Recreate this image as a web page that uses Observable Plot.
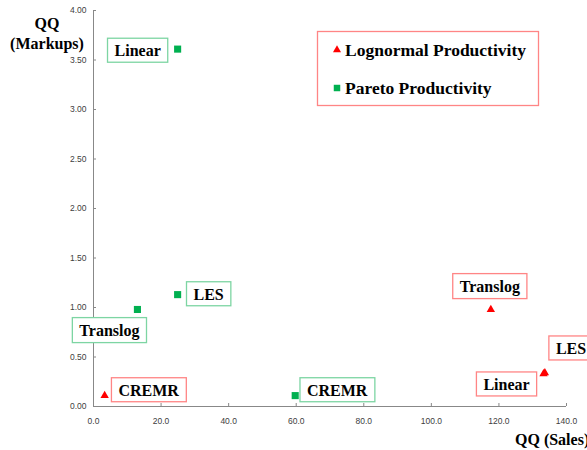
<!DOCTYPE html>
<html>
<head>
<meta charset="utf-8">
<script src="https://cdn.jsdelivr.net/npm/d3@7"></script>
<script src="https://cdn.jsdelivr.net/npm/@observablehq/plot@0.6"></script>
<style>
  html, body { margin: 0; padding: 0; background: #fff; }
  #wrap { position: relative; width: 587px; height: 450px; overflow: hidden; }
  #wrap svg { position: absolute; left: 0; top: 0; }
</style>
</head>
<body>
<div id="wrap"></div>
<script>
// ---- data ----
const lognormalModel   = ["CREMR", "Translog", "Linear", "LES"];
const lognormalSales   = [3.3, 117.6, 133.2, 133.6];
const lognormalMarkups = [0.11, 0.98, 0.33, 0.34];

const paretoModel   = ["Linear", "LES", "Translog", "CREMR"];
const paretoSales   = [24.9, 24.9, 13.0, 59.7];
const paretoMarkups = [3.61, 1.13, 0.98, 0.11];

const seriesNames = ["Lognormal Productivity", "Pareto Productivity"];
const xTicks = [0, 20, 40, 60, 80, 100, 120, 140];
const yTicks = [0, 0.5, 1, 1.5, 2, 2.5, 3, 3.5, 4];

const lognormal = lognormalModel.map((m, i) => ({model: m, sales: lognormalSales[i], markups: lognormalMarkups[i]}));
const pareto = paretoModel.map((m, i) => ({model: m, sales: paretoSales[i], markups: paretoMarkups[i]}));

const RED = "#ff0000", GREEN = "#00b050";
const RED_BOX = "#ff8585", GREEN_BOX = "#7dd5a3";
// label fills differ imperceptibly so the boxes can be matched to their series
const GREEN_LABEL_FILL = "#010101", RED_LABEL_FILL = "#020202";
const serif = "'Liberation Serif', 'Times New Roman', serif";

// label placement (pixel offsets from each point)
const labelPlacement = {
  "P-Linear":   {dx: -40, dy: 2,   anchor: "middle"},
  "P-LES":      {dx: 31,  dy: 0,   anchor: "middle"},
  "P-Translog": {dx: -28, dy: 21,  anchor: "middle"},
  "P-CREMR":    {dx: 42,  dy: -5,  anchor: "middle"},
  "L-CREMR":    {dx: 44,  dy: -5,  anchor: "middle"},
  "L-Translog": {dx: -1,  dy: -23, anchor: "middle"},
  "L-Linear":   {dx: -37, dy: 11,  anchor: "middle"},
  "L-LES":      {dx: 11,  dy: -24, anchor: "start"}
};

function labelMarks(data, prefix, fill) {
  return data.map(d => {
    const p = labelPlacement[prefix + "-" + d.model];
    return Plot.text([d], {
      x: "sales", y: "markups", text: "model",
      dx: p.dx, dy: p.dy, textAnchor: p.anchor,
      fontSize: 16, fontWeight: "bold", fontFamily: serif, fill
    });
  });
}

const svg = Plot.plot({
  width: 587,
  height: 450,
  marginLeft: 93,
  marginRight: 21,
  marginTop: 10,
  marginBottom: 44,
  style: {background: "transparent", overflow: "visible"},
  x: {domain: [0, 140]},
  y: {domain: [0, 4]},
  marks: [
    Plot.axisX({ticks: xTicks, tickFormat: d3.format(".1f"), tickSize: -3, tickPadding: 14,
                fontSize: 8.5, fontFamily: "'Liberation Sans', Arial, sans-serif", color: "#404040", stroke: "#888", label: null}),
    Plot.axisY({ticks: yTicks, tickFormat: d3.format(".2f"), tickSize: -3, tickPadding: 10,
                fontSize: 8.5, fontFamily: "'Liberation Sans', Arial, sans-serif", color: "#404040", stroke: "#888", label: null}),
    Plot.ruleX([0], {stroke: "#888"}),
    Plot.ruleY([0], {stroke: "#888"}),
    Plot.dot(pareto, {x: "sales", y: "markups", symbol: "square", r: 4, fill: GREEN, stroke: null}),
    Plot.dot(lognormal, {x: "sales", y: "markups", symbol: "triangle", r: 3.1, fill: RED, stroke: null}),
    ...labelMarks(pareto, "P", GREEN_LABEL_FILL),
    ...labelMarks(lognormal, "L", RED_LABEL_FILL)
  ]
});

const wrap = document.getElementById("wrap");
wrap.append(svg);

// boxes around the labels
svg.querySelectorAll("g").forEach(g => {
  const fill = (g.getAttribute("fill") || "").toLowerCase();
  let color = null;
  if (fill === GREEN_LABEL_FILL) color = GREEN_BOX;
  else if (fill === RED_LABEL_FILL) color = RED_BOX;
  if (!color) return;
  g.querySelectorAll(":scope > text").forEach(t => {
    const b = t.getBBox();
    const r = document.createElementNS("http://www.w3.org/2000/svg", "rect");
    r.setAttribute("x", b.x - 7);
    r.setAttribute("y", b.y - 4);
    r.setAttribute("width", b.width + 14);
    r.setAttribute("height", b.height + 7);
    r.setAttribute("fill", "#fff");
    r.setAttribute("stroke", color);
    r.setAttribute("stroke-width", 1.3);
    if (t.getAttribute("transform")) r.setAttribute("transform", t.getAttribute("transform"));
    g.insertBefore(r, t);
  });
});

// axis titles and legend
const s = d3.select(svg);
const titles = s.append("g").attr("font-family", serif).attr("font-weight", "bold").attr("font-size", 16).attr("fill", "#000");
titles.append("text").attr("x", 47).attr("y", 29).attr("text-anchor", "middle").text("QQ");
titles.append("text").attr("x", 47).attr("y", 49).attr("text-anchor", "middle").text("(Markups)");
titles.append("text").attr("x", 515).attr("y", 445).attr("text-anchor", "start").text("QQ (Sales)");

const legend = s.append("g");
legend.append("rect").attr("x", 317.5).attr("y", 31.5).attr("width", 221).attr("height", 74)
  .attr("fill", "#fff").attr("stroke", RED_BOX).attr("stroke-width", 1.3);
const legendSymbols = [d3.symbolTriangle, d3.symbolSquare];
const legendColors = [RED, GREEN];
const legendSizes = [28, 42];
seriesNames.forEach((name, i) => {
  const cy = 50 + i * 38;
  legend.append("path")
    .attr("transform", `translate(337,${cy})`)
    .attr("d", d3.symbol(legendSymbols[i], legendSizes[i])())
    .attr("fill", legendColors[i]);
  legend.append("text").attr("x", 345).attr("y", cy + 6).attr("text-anchor", "start")
    .attr("font-family", serif).attr("font-weight", "bold").attr("font-size", 17.5)
    .attr("fill", "#000")
    .text(name);
});
</script>
</body>
</html>
